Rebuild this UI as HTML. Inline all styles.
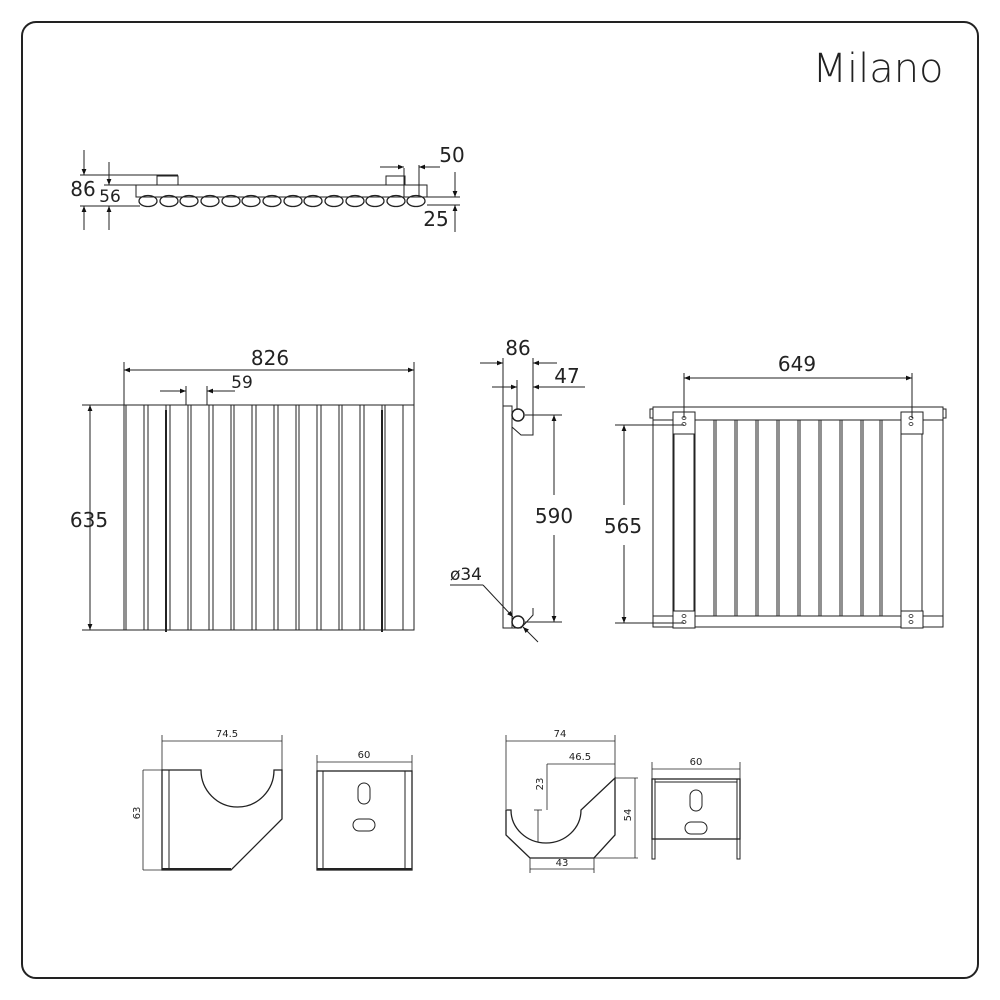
<!DOCTYPE html>
<html><head><meta charset="utf-8"><style>
html,body{margin:0;padding:0;background:#fff}
svg{display:block}
text{font-family:"DejaVu Sans","Liberation Sans",sans-serif;fill:#222}
</style></head><body>
<svg width="1000" height="1000" viewBox="0 0 1000 1000" xmlns="http://www.w3.org/2000/svg">
<defs>
<marker id="a" viewBox="0 0 10 10" refX="10" refY="5" markerWidth="9" markerHeight="6" orient="auto-start-reverse" markerUnits="userSpaceOnUse"><path d="M0,1 L10,5 L0,9z" fill="#111"/></marker>
</defs>
<rect x="22" y="22" width="956" height="956" rx="14" fill="none" stroke="#222" stroke-width="2"/>
<text x="878" y="82" font-size="40" text-anchor="middle" font-family="Liberation Sans" style="font-weight:300">Milano</text>

<g stroke="#222" fill="none" stroke-width="1">
<!-- top view -->
<rect x="136" y="185" width="291" height="12" fill="#fff"/>
<rect x="157" y="176" width="21" height="9"/>
<rect x="386" y="176" width="19" height="9"/>
<g stroke-width="1.3">
<ellipse cx="148" cy="201" rx="9" ry="5.5"/><ellipse cx="169" cy="201" rx="9" ry="5.5"/><ellipse cx="189" cy="201" rx="9" ry="5.5"/><ellipse cx="210" cy="201" rx="9" ry="5.5"/><ellipse cx="231" cy="201" rx="9" ry="5.5"/><ellipse cx="251" cy="201" rx="9" ry="5.5"/><ellipse cx="272" cy="201" rx="9" ry="5.5"/><ellipse cx="293" cy="201" rx="9" ry="5.5"/><ellipse cx="313" cy="201" rx="9" ry="5.5"/><ellipse cx="334" cy="201" rx="9" ry="5.5"/><ellipse cx="355" cy="201" rx="9" ry="5.5"/><ellipse cx="375" cy="201" rx="9" ry="5.5"/><ellipse cx="396" cy="201" rx="9" ry="5.5"/><ellipse cx="416" cy="201" rx="9" ry="5.5"/>
</g>
<line x1="80" y1="175" x2="178" y2="175"/><line x1="80" y1="206" x2="140" y2="206"/>
<line x1="84" y1="150" x2="84" y2="175" marker-end="url(#a)"/><line x1="84" y1="230" x2="84" y2="206" marker-end="url(#a)"/>
<line x1="104" y1="185" x2="136" y2="185"/>
<line x1="109" y1="162" x2="109" y2="185" marker-end="url(#a)"/><line x1="109" y1="230" x2="109" y2="206" marker-end="url(#a)"/>
<line x1="404" y1="168" x2="404" y2="197"/><line x1="419" y1="165" x2="419" y2="197"/>
<line x1="380" y1="167" x2="404" y2="167" marker-end="url(#a)"/><line x1="440" y1="167" x2="419" y2="167" marker-end="url(#a)"/>
<line x1="427" y1="197" x2="460" y2="197"/><line x1="427" y1="205" x2="460" y2="205"/>
<line x1="455" y1="172" x2="455" y2="197" marker-end="url(#a)"/><line x1="455" y1="232" x2="455" y2="205" marker-end="url(#a)"/>

<!-- front view -->
<g fill="#fff">
<rect x="124" y="405" width="290" height="225" fill="none"/>
<rect x="126" y="405" width="18" height="225"/><rect x="148" y="405" width="18" height="225"/><rect x="170" y="405" width="18" height="225"/><rect x="191" y="405" width="18" height="225"/><rect x="213" y="405" width="18" height="225"/><rect x="234" y="405" width="18" height="225"/><rect x="256" y="405" width="18" height="225"/><rect x="278" y="405" width="18" height="225"/><rect x="299" y="405" width="18" height="225"/><rect x="321" y="405" width="18" height="225"/><rect x="342" y="405" width="18" height="225"/><rect x="364" y="405" width="18" height="225"/><rect x="385" y="405" width="18" height="225"/>
</g>
<line x1="166" y1="410" x2="166" y2="632" stroke-width="2"/><line x1="382" y1="410" x2="382" y2="632" stroke-width="2"/>
<line x1="124" y1="362" x2="124" y2="405"/><line x1="414" y1="362" x2="414" y2="405"/>
<line x1="124" y1="370" x2="414" y2="370" marker-start="url(#a)" marker-end="url(#a)"/>
<line x1="186" y1="386" x2="186" y2="405"/><line x1="207" y1="386" x2="207" y2="405"/>
<line x1="160" y1="391" x2="186" y2="391" marker-end="url(#a)"/><line x1="235" y1="391" x2="207" y2="391" marker-end="url(#a)"/>
<line x1="82" y1="405" x2="124" y2="405"/><line x1="82" y1="630" x2="124" y2="630"/>
<line x1="90" y1="405" x2="90" y2="630" marker-start="url(#a)" marker-end="url(#a)"/>

<!-- side view -->
<rect x="503" y="406" width="9" height="222"/>
<path d="M512,406 V427 L521,435 H533 V406"/>
<path d="M512,628 H521 L533,615 V608"/>
<circle cx="518" cy="415" r="6" stroke-width="1.5"/><circle cx="518" cy="622" r="6" stroke-width="1.5"/>
<line x1="503" y1="358" x2="503" y2="406"/><line x1="533" y1="358" x2="533" y2="406"/><line x1="517" y1="380" x2="517" y2="410"/>
<line x1="480" y1="363" x2="503" y2="363" marker-end="url(#a)"/><line x1="557" y1="363" x2="533" y2="363" marker-end="url(#a)"/>
<line x1="492" y1="387" x2="517" y2="387" marker-end="url(#a)"/><line x1="585" y1="387" x2="533" y2="387" marker-end="url(#a)"/>
<line x1="525" y1="415" x2="562" y2="415"/><line x1="525" y1="622" x2="562" y2="622"/>
<line x1="554" y1="415" x2="554" y2="495" marker-start="url(#a)"/><line x1="554" y1="535" x2="554" y2="622" marker-end="url(#a)"/>
<line x1="450" y1="585" x2="483" y2="585"/><line x1="483" y1="585" x2="513" y2="617" marker-end="url(#a)"/>
<line x1="538" y1="642" x2="523" y2="627" marker-end="url(#a)"/>

<!-- back view -->
<rect x="653" y="407" width="290" height="13" fill="#fff"/>
<rect x="653" y="616" width="290" height="11" fill="#fff"/>
<rect x="650" y="409" width="3" height="9"/><rect x="943" y="409" width="3" height="9"/>
<line x1="653" y1="420" x2="653" y2="616"/><line x1="673" y1="420" x2="673" y2="616"/><line x1="695" y1="420" x2="695" y2="616"/><line x1="674" y1="420" x2="674" y2="616"/><line x1="694" y1="420" x2="694" y2="616"/>
<line x1="714" y1="420" x2="714" y2="616"/><line x1="716" y1="420" x2="716" y2="616"/>
<line x1="735" y1="420" x2="735" y2="616"/><line x1="737" y1="420" x2="737" y2="616"/>
<line x1="756" y1="420" x2="756" y2="616"/><line x1="758" y1="420" x2="758" y2="616"/>
<line x1="777" y1="420" x2="777" y2="616"/><line x1="779" y1="420" x2="779" y2="616"/>
<line x1="798" y1="420" x2="798" y2="616"/><line x1="800" y1="420" x2="800" y2="616"/>
<line x1="819" y1="420" x2="819" y2="616"/><line x1="821" y1="420" x2="821" y2="616"/>
<line x1="840" y1="420" x2="840" y2="616"/><line x1="842" y1="420" x2="842" y2="616"/>
<line x1="861" y1="420" x2="861" y2="616"/><line x1="863" y1="420" x2="863" y2="616"/>
<line x1="880" y1="420" x2="880" y2="616"/><line x1="882" y1="420" x2="882" y2="616"/>
<line x1="901" y1="420" x2="901" y2="616"/><line x1="922" y1="420" x2="922" y2="616"/><line x1="943" y1="420" x2="943" y2="616"/>
<g fill="#fff">
<rect x="673" y="412" width="22" height="22"/><rect x="901" y="412" width="22" height="22"/>
<rect x="673" y="611" width="22" height="17"/><rect x="901" y="611" width="22" height="17"/>
</g>
<g stroke-width="0.8">
<ellipse cx="684" cy="418" rx="2" ry="1.5"/><ellipse cx="684" cy="424" rx="2" ry="1.5"/>
<ellipse cx="911" cy="418" rx="2" ry="1.5"/><ellipse cx="911" cy="424" rx="2" ry="1.5"/>
<ellipse cx="684" cy="616" rx="2" ry="1.5"/><ellipse cx="684" cy="622" rx="2" ry="1.5"/>
<ellipse cx="911" cy="616" rx="2" ry="1.5"/><ellipse cx="911" cy="622" rx="2" ry="1.5"/>
</g>
<line x1="684" y1="373" x2="684" y2="418"/><line x1="912" y1="373" x2="912" y2="418"/>
<line x1="684" y1="378" x2="912" y2="378" marker-start="url(#a)" marker-end="url(#a)"/>
<line x1="615" y1="425" x2="684" y2="425"/><line x1="615" y1="623" x2="684" y2="623"/>
<line x1="624" y1="425" x2="624" y2="505" marker-start="url(#a)"/><line x1="624" y1="545" x2="624" y2="623" marker-end="url(#a)"/>

<!-- brackets -->
<g stroke-width="0.8">
<line x1="143" y1="770" x2="162" y2="770"/><line x1="143" y1="870" x2="162" y2="870"/><line x1="143" y1="770" x2="143" y2="870"/>
<line x1="162" y1="735" x2="162" y2="770"/><line x1="282" y1="735" x2="282" y2="770"/><line x1="162" y1="741" x2="282" y2="741"/>
<line x1="317" y1="755" x2="317" y2="771"/><line x1="412" y1="755" x2="412" y2="771"/><line x1="317" y1="762" x2="412" y2="762"/>
<line x1="506" y1="735" x2="506" y2="809"/><line x1="615" y1="735" x2="615" y2="778"/><line x1="506" y1="741" x2="615" y2="741"/>
<line x1="547" y1="764" x2="615" y2="764"/><line x1="547" y1="764" x2="547" y2="810"/>
<line x1="615" y1="778" x2="638" y2="778"/><line x1="594" y1="858" x2="638" y2="858"/><line x1="635" y1="778" x2="635" y2="858"/>
<line x1="530" y1="858" x2="530" y2="873"/><line x1="594" y1="858" x2="594" y2="873"/><line x1="530" y1="869" x2="594" y2="869"/>
<line x1="538" y1="810" x2="538" y2="842"/><line x1="534" y1="810" x2="542" y2="810"/>
<line x1="652" y1="762" x2="652" y2="779"/><line x1="740" y1="762" x2="740" y2="779"/><line x1="652" y1="769" x2="740" y2="769"/>
</g>
<path d="M162,770 V870 H231 L282,819 V770 H274 A36.5,37 0 0 1 201,770 Z" stroke-width="1.3"/>
<line x1="169" y1="770" x2="169" y2="870"/><line x1="162" y1="869" x2="231" y2="869" stroke-width="2"/>
<rect x="317" y="771" width="95" height="99" stroke-width="1.3"/>
<line x1="323" y1="771" x2="323" y2="870"/><line x1="405" y1="771" x2="405" y2="870"/><line x1="317" y1="869" x2="412" y2="869" stroke-width="2"/>
<rect x="358" y="783" width="12" height="21" rx="6"/><rect x="353" y="819" width="22" height="12" rx="6"/>
<path d="M506,810 V835 L530,858 H594 L615,835 V778 L581,810 A35,33 0 0 1 511,810 Z" stroke-width="1.3"/>
<rect x="652" y="779" width="88" height="60" stroke-width="1.3"/>
<line x1="655" y1="782" x2="737" y2="782"/>
<rect x="652" y="779" width="3" height="80"/><rect x="737" y="779" width="3" height="80"/>
<rect x="690" y="790" width="12" height="21" rx="6"/><rect x="685" y="822" width="22" height="12" rx="6"/>
</g>

<g font-size="20">
<text x="83" y="196" text-anchor="middle">86</text>
<text x="110" y="202" text-anchor="middle" font-size="17">56</text>
<text x="452" y="162" text-anchor="middle">50</text>
<text x="436" y="226" text-anchor="middle">25</text>
<text x="270" y="365" text-anchor="middle">826</text>
<text x="242" y="388" text-anchor="middle" font-size="17">59</text>
<text x="89" y="527" text-anchor="middle">635</text>
<text x="518" y="355" text-anchor="middle">86</text>
<text x="567" y="383" text-anchor="middle">47</text>
<text x="554" y="523" text-anchor="middle">590</text>
<text x="466" y="580" text-anchor="middle" font-size="17">ø34</text>
<text x="797" y="371" text-anchor="middle">649</text>
<text x="623" y="533" text-anchor="middle">565</text>
</g>
<g font-size="10">
<text x="227" y="737" text-anchor="middle">74.5</text>
<text x="140" y="813" text-anchor="middle" transform="rotate(-90 140 813)">63</text>
<text x="364" y="758" text-anchor="middle">60</text>
<text x="560" y="737" text-anchor="middle">74</text>
<text x="580" y="760" text-anchor="middle">46.5</text>
<text x="543" y="784" text-anchor="middle" transform="rotate(-90 543 784)">23</text>
<text x="631" y="815" text-anchor="middle" transform="rotate(-90 631 815)">54</text>
<text x="562" y="866" text-anchor="middle">43</text>
<text x="696" y="765" text-anchor="middle">60</text>
</g>
</svg>
</body></html>
